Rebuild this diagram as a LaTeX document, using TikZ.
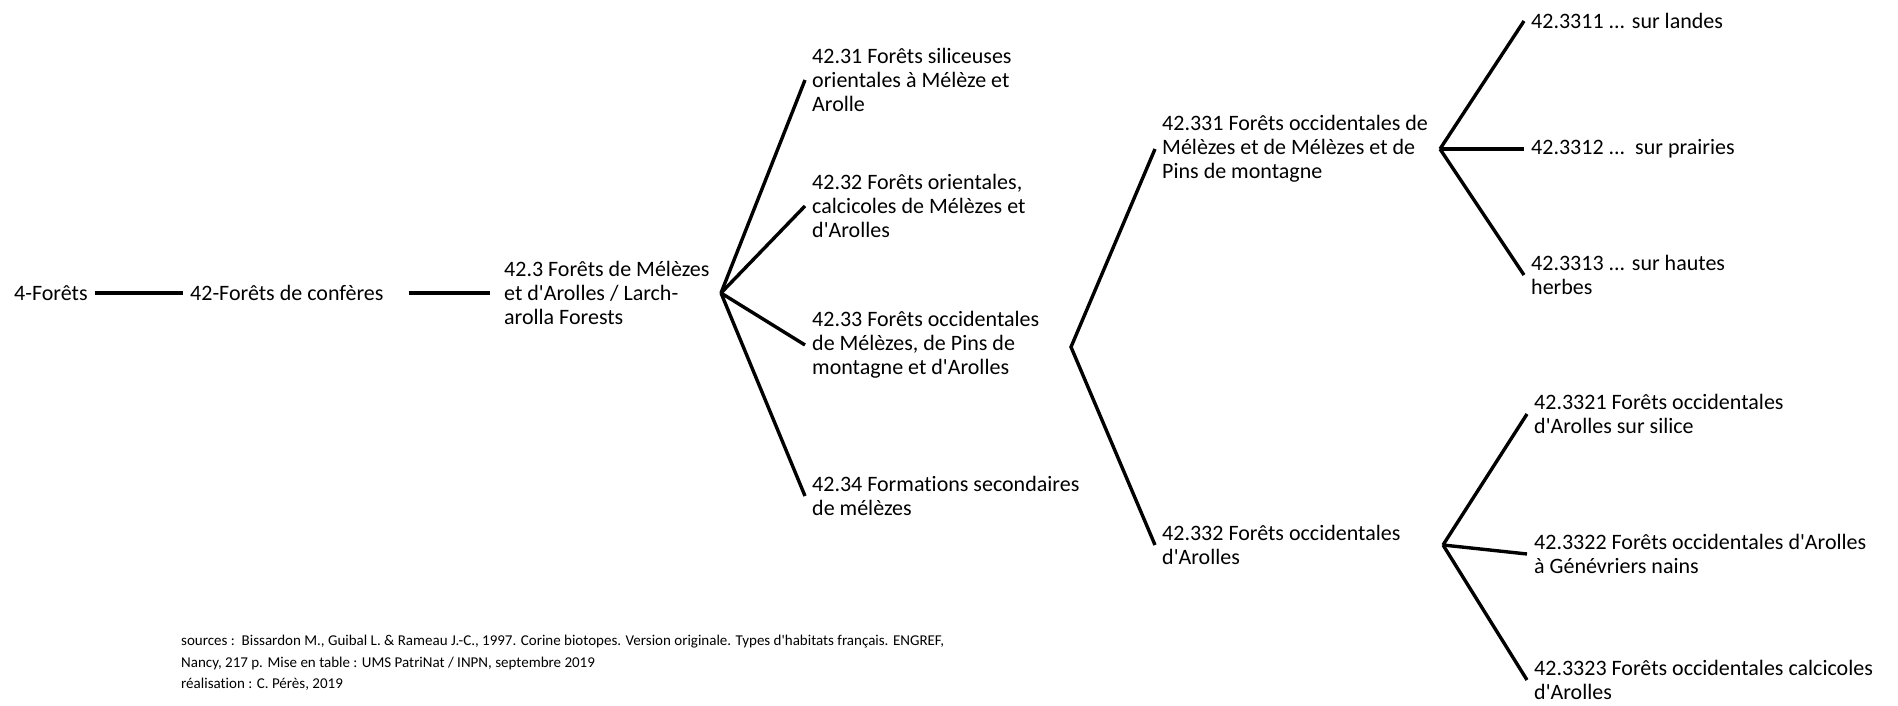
\documentclass[tikz,border=0pt]{standalone}
\usepackage{fontspec}
\setmainfont{Carlito}[Ligatures={TeXOff,NoCommon}]
\usepackage{tikz}
\usetikzlibrary{positioning}

\tikzset{hab/.style={anchor=west, align=left, inner xsep=7pt, inner ysep=0pt, font=\fontsize{22}{24.2}\selectfont},
  branche/.style={line width=3.4pt}}

\begin{document}
\begin{tikzpicture}[x=1pt,y=-1pt]
\useasboundingbox (0,0) rectangle (1898,706);
\node[hab] (f4) at (7,293) {4-Forêts};
\node[hab] (f42) at (183,293) {42-Forêts de confères};
\node[hab] (f423) at (497,293) {42.3 Forêts de Mélèzes\\et d'Arolles / Larch-\\arolla Forests};
\draw[branche, line width=4pt] (f4.east) -- (f42.west);
\draw[branche, line width=4pt, shorten <=18pt, shorten >=7pt] (f42.east) -- (f423.west);

\coordinate (b423) at (721,293);
\node[hab] (f4231) at (805,80) {42.31 Forêts siliceuses\\orientales à Mélèze et\\Arolle};
\node[hab] (f4232) at (805,206) {42.32 Forêts orientales,\\calcicoles de Mélèzes et\\d'Arolles};
\node[hab] (f4233) at (805,345) {42.33 Forêts occidentales\\de Mélèzes, de Pins de\\montagne et d'Arolles};
\node[hab] (f4234) at (805,496) {42.34 Formations secondaires\\de mélèzes};
\foreach \n in {f4231,f4232,f4233,f4234}
  \draw[branche] (b423) -- (\n.west);

\coordinate (b4233) at (1071,347);
\node[hab] (f42331) at (1155,149) {42.331 Forêts occidentales de\\Mélèzes et de Mélèzes et de\\Pins de montagne};
\node[hab] (f42332) at (1155,545) {42.332 Forêts occidentales\\d'Arolles};
\draw[branche] (f42331.west) -- (b4233) -- (f42332.west);

\coordinate (b42331) at (1440,149);
\node[hab] (f423311) at (1524,21) {42.3311 ... sur landes};
\node[hab] (f423312) at (1524,149) {42.3312 ...\ \ sur prairies};
\node[hab] (f423313) at (1524,275) {42.3313 ... sur hautes\\herbes};
\foreach \n in {f423311,f423312,f423313}
  \draw[branche] (b42331) -- (\n.west);

\coordinate (b42332) at (1443,545);
\node[hab] (f423321) at (1527,414) {42.3321 Forêts occidentales\\d'Arolles sur silice};
\node[hab] (f423322) at (1527,554) {42.3322 Forêts occidentales d'Arolles\\à Génévriers nains};
\node[hab] (f423323) at (1527,680) {42.3323 Forêts occidentales calcicoles\\d'Arolles};
\foreach \n in {f423321,f423322,f423323}
  \draw[branche] (b42332) -- (\n.west);

\node[anchor=west, align=left, inner sep=0pt, font=\fontsize{15}{21.5}\selectfont] (src) at (181,663)
  {sources :\ \ Bissardon M., Guibal L. \& Rameau J.-C., 1997. Corine biotopes. Version originale. Types d'habitats français. ENGREF,\\Nancy, 217 p. Mise en table : UMS PatriNat / INPN, septembre 2019\\réalisation : C. Pérès, 2019};
\end{tikzpicture}
\end{document}
